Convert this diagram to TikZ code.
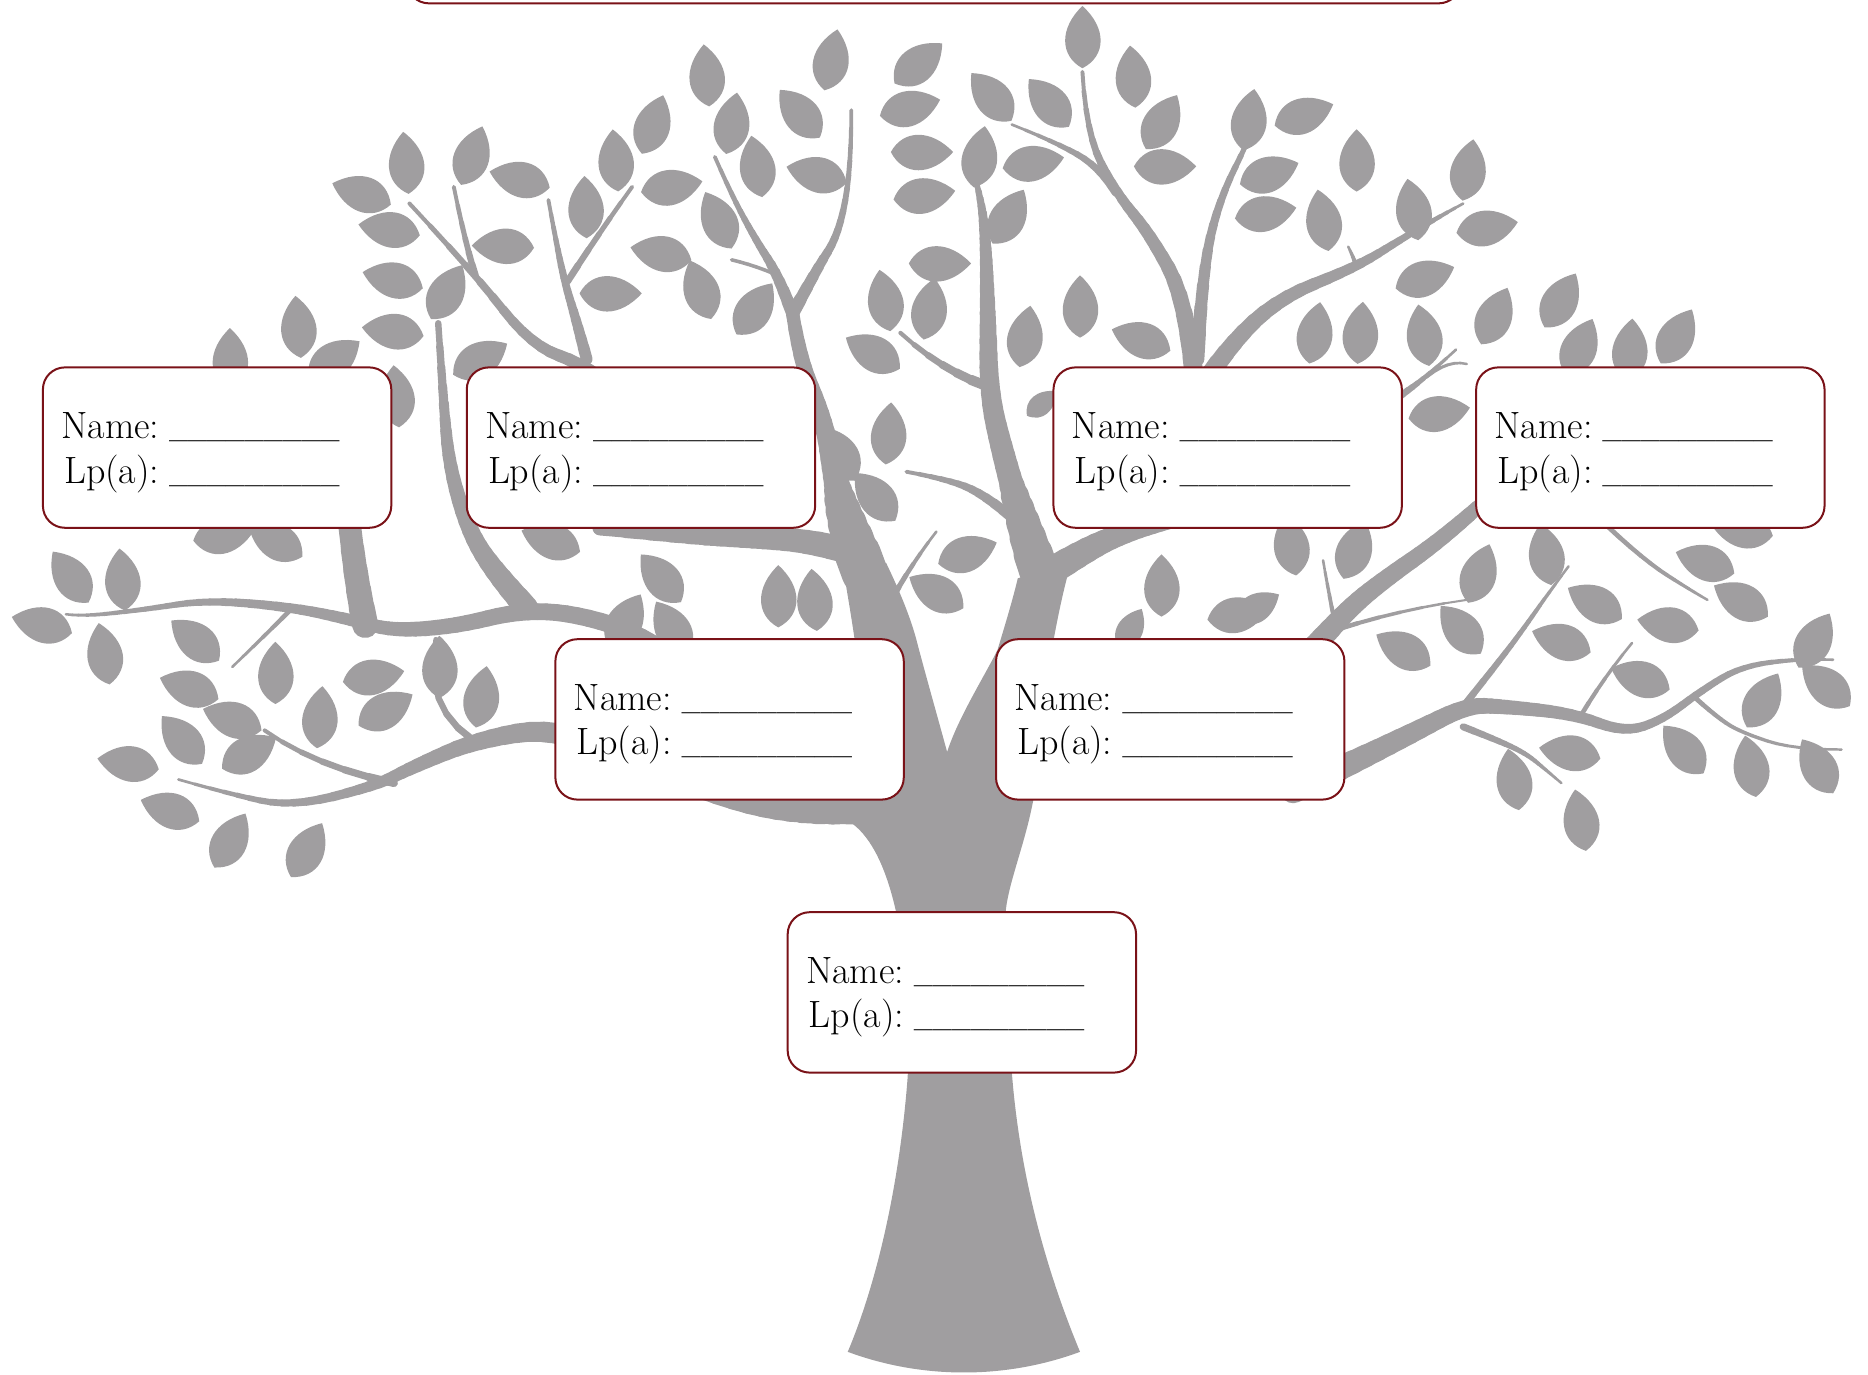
\documentclass[tikz,border=0pt]{standalone}
\usetikzlibrary{calc}
\definecolor{treegray}{RGB}{160,158,160}
\definecolor{boxred}{RGB}{122,18,24}

% tapered branch through points x/y/w (w in picture units)
\newcommand\tbr[1]{%
  \foreach \px/\py/\pw [count=\k] in {#1}{%
    \expandafter\xdef\csname tbx\k\endcsname{\px}%
    \expandafter\xdef\csname tby\k\endcsname{\py}%
    \expandafter\xdef\csname tbw\k\endcsname{\pw}%
    \xdef\tbn{\k}%
  }%
  \pgfmathtruncatemacro\tblast{\tbn-1}%
  \foreach \j in {2,...,\tblast}{%
    \pgfmathtruncatemacro\jm{\j-1}%
    \pgfmathtruncatemacro\jp{\j+1}%
    \edef\qcx{\csname tbx\j\endcsname}%
    \edef\qcy{\csname tby\j\endcsname}%
    \edef\qcw{\csname tbw\j\endcsname}%
    \edef\qpx{\csname tbx\jm\endcsname}%
    \edef\qpy{\csname tby\jm\endcsname}%
    \edef\qpw{\csname tbw\jm\endcsname}%
    \edef\qnx{\csname tbx\jp\endcsname}%
    \edef\qny{\csname tby\jp\endcsname}%
    \edef\qnw{\csname tbw\jp\endcsname}%
    \ifnum\j=2\relax
      \let\qsx\qpx \let\qsy\qpy \let\qsw\qpw
    \else
      \pgfmathsetmacro\qsx{(\qpx+\qcx)/2}%
      \pgfmathsetmacro\qsy{(\qpy+\qcy)/2}%
      \pgfmathsetmacro\qsw{(\qpw+\qcw)/2}%
    \fi
    \ifnum\j=\tblast\relax
      \let\qex\qnx \let\qey\qny \let\qew\qnw
    \else
      \pgfmathsetmacro\qex{(\qnx+\qcx)/2}%
      \pgfmathsetmacro\qey{(\qny+\qcy)/2}%
      \pgfmathsetmacro\qew{(\qnw+\qcw)/2}%
    \fi
    \foreach \i in {0,...,5}{%
      \pgfmathsetmacro\qta{\i/6}%
      \pgfmathsetmacro\qtb{(\i+1)/6}%
      \pgfmathsetmacro\qxa{(1-\qta)*(1-\qta)*\qsx+2*\qta*(1-\qta)*\qcx+\qta*\qta*\qex}%
      \pgfmathsetmacro\qya{(1-\qta)*(1-\qta)*\qsy+2*\qta*(1-\qta)*\qcy+\qta*\qta*\qey}%
      \pgfmathsetmacro\qxb{(1-\qtb)*(1-\qtb)*\qsx+2*\qtb*(1-\qtb)*\qcx+\qtb*\qtb*\qex}%
      \pgfmathsetmacro\qyb{(1-\qtb)*(1-\qtb)*\qsy+2*\qtb*(1-\qtb)*\qcy+\qtb*\qtb*\qey}%
      \pgfmathsetmacro\qww{(\qsw+(\qew-\qsw)*(\qta+\qtb)/2)*0.5987}%
      \draw[treegray, line width=\qww pt, line cap=round] (\qxa,\qya) -- (\qxb,\qyb);
    }%
  }%
}

% leaf: [length]{x}{y}{angle}
\newcommand\lf[4][52]{%
  \fill[treegray, shift={(#2,#3)}, rotate=#4, scale=#1]
    (-0.5,0) .. controls (-0.3,0.39) and (0.15,0.39) .. (0.5,0)
    .. controls (0.15,-0.37) and (-0.3,-0.37) .. (-0.5,0) -- cycle;}

\newcommand\uline{{\fontsize{10.9}{13}\selectfont\bfseries\_\_\_\_\_\_\_\_\_}}

\tikzset{
  fambox/.style={draw=boxred, fill=white, line width=1pt, rounded corners=11pt,
    minimum width=174.2pt, minimum height=80.2pt, inner sep=0pt, anchor=north west},
  cardtext/.style={anchor=base east, inner sep=0pt, font=\fontsize{19}{22}\selectfont}
}

\newcommand\famcard[3]{%
  \node[fambox] (#1) at (#2,#3) {};
  \node[cardtext] (#1n) at ({#2+249},{#3+60}) {\spaceskip=3pt Name: \uline};
  \node[cardtext] (#1l) at ({#2+249},{#3+97.5}) {\spaceskip=3pt Lp(a): \uline};
}

\begin{document}
\begin{tikzpicture}[x=0.5987pt, y=-0.5987pt]
\useasboundingbox (0,0) rectangle (1560.1,1148.3);
\clip (0,0) rectangle (1560.1,1148.3);

% ---------- trunk ----------
\fill[treegray] (708,1129)
 .. controls (735,1065) and (752,980) .. (758,900)
 .. controls (762,830) and (755,785) .. (748,760)
 .. controls (740,725) and (728,700) .. (712,688)
 -- (722,600)
 .. controls (718,560) and (712,520) .. (705,480)
 -- (740,470)
 .. controls (752,495) and (760,515) .. (765,533)
 .. controls (772,560) and (782,595) .. (791,628)
 .. controls (800,600) and (822,565) .. (833,543)
 .. controls (840,520) and (846,500) .. (850,483)
 -- (895,468)
 .. controls (880,520) and (868,600) .. (863,668)
 .. controls (856,705) and (843,735) .. (840,760)
 .. controls (838,800) and (842,860) .. (845,895)
 .. controls (850,960) and (865,1040) .. (902,1129)
 .. controls (840,1152) and (770,1152) .. (708,1129) -- cycle;

% ---------- branches ----------
% left limb
\tbr{722/478/40, 704/430/26, 696/390/18, 686/345/14, 668/300/13, 662/262/11}
\tbr{662/262/11, 650/230/8, 631/200/6, 612/165/4, 597/131/3}
\tbr{662/262/11, 682/225/8, 701/195/6, 711/139/4, 711/92/3}
\tbr{611/217/3, 632/222/3, 652/231/3}
% right limb
\tbr{868/478/34, 852/430/22, 838/380/18, 826/330/17, 825/260/13, 823/195/9, 818/160/5, 812/140/3}
% right branch from limb
\tbr{870/482/24, 905/460/20, 940/444/18, 975/434/16, 1012/424/15, 1060/408/14}
\tbr{1000/330/17, 1015/303/15, 1063/251/12, 1133/223/8, 1170/200/6, 1202/181/4, 1222/170/2}
\tbr{1133/223/4, 1130/214/3, 1126/206/2}
\tbr{998/320/16, 991/251/13, 960/195/10, 932/161/8, 907/111/5, 904/60/3}
\tbr{845/104/2, 880/118/4, 918/139/6, 932/161/7}
\tbr{1000/300/12, 1004/228/9, 1018/167/6, 1046/111/4, 1053/89/2}
\tbr{752/278/3, 786/309/6, 823/322/9}
\tbr{757/394/3, 790/400/5, 821/412/7, 845/432/9}
\tbr{745/500/5, 762/470/4, 782/444/2}
% left big branch under box 2
\tbr{715/462/22, 680/452/20, 629/449/18, 570/447/15, 501/441/12}
% lower left branch
\tbr{740/672/30, 690/677/24, 629/672/22, 540/640/20, 464/607/18, 398/618/14, 346/640/11, 312/657/9, 243/674/6, 191/663/4, 149/651/2}
% main left horizontal branch
\tbr{600/575/16, 543/532/15, 480/512/14, 433/510/14, 381/523/13, 329/527/12, 295/518/10, 243/507/8, 173/501/6, 121/509/4, 69/515/3, 55/513/2}
\tbr{290/420/18, 296/480/20, 305/522/22}
\tbr{366/270/5, 370/330/8, 375/390/11, 392/445/14, 415/480/17, 440/508/20}
\tbr{243/509/4, 220/532/3, 194/557/2}
\tbr{364/534/4, 353/590/5, 395/618/6}
\tbr{221/610/3, 263/640/5, 329/654/7}
% top-left twigs
\tbr{342/170/3, 396/228/6, 444/289/9, 490/305/11, 520/330/12}
\tbr{379/156/3, 389/205/4, 397/230/6}
\tbr{458/167/3, 465/205/5, 472/237/6, 482/270/8, 490/300/10}
\tbr{528/156/3, 500/195/4, 474/235/6}
% right side
\tbr{1080/660/22, 1123/640/20, 1180/612/16, 1225/589/14, 1255/590/12, 1314/596/10, 1357/612/8, 1389/601/7, 1422/576/6, 1455/556/5, 1505/550/3, 1531/551/2}
\tbr{1222/590/6, 1250/555/5, 1274/523/4, 1292/497/3, 1310/473/2}
\tbr{1320/598/4, 1340/565/3, 1363/537/2}
\tbr{1416/583/4, 1435/600/3.5, 1455/612/3, 1498/626/2.5, 1538/626/2}
\tbr{1222/607/6, 1250/618/5, 1274/629/4, 1290/642/3, 1304/654/2}
\tbr{1070/570/20, 1103/534/18, 1130/505/16, 1159/482/15, 1199/454/13, 1241/418/12, 1260/400/10}
\tbr{1116/526/4, 1110/497/3, 1105/468/2}
\tbr{1116/526/4, 1169/509/3, 1225/501/1.5}
\tbr{1343/440/4, 1373/468/3.5, 1412/493/3, 1426/501/2}
\tbr{1150/345/7, 1169/331/6, 1191/315/4, 1216/292/2}
\tbr{1191/315/3, 1210/300/2.5, 1225/304/2}

% ---------- leaves ----------
% top left / centre
\lf{694}{50}{78} \lf{767}{53}{40} \lf{590}{63}{95} \lf{760}{90}{15}
\lf{668}{95}{130} \lf{611}{103}{80} \lf{545}{104}{70} \lf{770}{127}{0}
\lf{632}{139}{100} \lf{682}{146}{165} \lf{514}{134}{95} \lf{434}{150}{165}
\lf{394}{130}{70} \lf{339}{136}{95} \lf{302}{162}{160} \lf{561}{156}{10}
\lf{489}{173}{92} \lf{325}{192}{170} \lf{420}{206}{178} \lf{552}{212}{168}
\lf{600}{184}{115} \lf{772}{163}{8} \lf{785}{220}{0} \lf{585}{242}{110}
\lf{630}{258}{55} \lf{510}{245}{0} \lf{373}{244}{60} \lf{328}{234}{165}
\lf{328}{277}{172} \lf{776}{258}{80} \lf{739}{251}{100} \lf{729}{295}{150}
\lf{249}{273}{95} \lf{279}{300}{35} \lf{742}{362}{85} \lf{331}{331}{95}
\lf{192}{300}{90} \lf{401}{300}{30}
% top right
\lf{904}{31}{90} \lf{946}{64}{95} \lf{828}{81}{130} \lf{876}{86}{130}
\lf{970}{102}{60} \lf{1043}{100}{80} \lf{1089}{96}{20} \lf{818}{131}{80}
\lf{863}{136}{10} \lf{973}{139}{0} \lf{1133}{134}{90} \lf{1060}{145}{20}
\lf{1226}{142}{80} \lf{842}{181}{60} \lf{1180}{175}{100} \lf{1242}{190}{10}
\lf{1057}{178}{10} \lf{1105}{184}{100} \lf{1190}{232}{20} \lf{902}{256}{90}
\lf{856}{281}{80} \lf{953}{284}{160} \lf{1098}{278}{80} \lf{1136}{278}{85}
\lf{1189}{280}{100} \lf{1248}{264}{65} \lf{1303}{251}{60} \lf{1202}{345}{10}
\lf[32]{870}{337}{40} \lf{1319}{290}{65} \lf{1361}{292}{85} \lf{1400}{281}{60}
% middle band
\lf{701}{379}{120} \lf{731}{415}{130} \lf{808}{462}{20} \lf{782}{495}{150}
\lf{552}{483}{130} \lf{650}{498}{90} \lf{680}{501}{95} \lf{970}{489}{90}
\lf{1034}{513}{10} \lf{1078}{455}{100} \lf{1131}{459}{70} \lf[38]{944}{525}{60}
\lf{522}{519}{60} \lf{561}{525}{120} \lf{460}{452}{160} \lf{230}{452}{150}
\lf{187}{447}{10}
% left
\lf{59}{482}{125} \lf{102}{484}{95} \lf{35}{522}{165} \lf{87}{546}{100}
\lf{163}{535}{140} \lf{158}{575}{160} \lf{230}{562}{90} \lf{312}{565}{10}
\lf{367}{557}{90} \lf{402}{582}{80} \lf{322}{593}{30} \lf{194}{601}{160}
\lf{267}{599}{85} \lf{152}{618}{130} \lf{107}{638}{170} \lf{208}{629}{30}
\lf{142}{677}{160} \lf{192}{702}{60} \lf{256}{710}{60}
% right
\lf[42]{1050}{507}{30} \lf{1235}{479}{70} \lf{1291}{463}{100} \lf{1172}{543}{150}
\lf{1220}{526}{130} \lf{1332}{504}{150} \lf{1424}{470}{160} \lf{1454}{502}{150}
\lf{1393}{522}{170} \lf{1304}{536}{160} \lf{1370}{567}{160} \lf{1455}{443}{170}
\lf{1515}{535}{60} \lf{1472}{585}{60} \lf{1525}{573}{140} \lf{1311}{629}{170}
\lf{1406}{626}{130} \lf{1462}{640}{100} \lf{1518}{640}{120} \lf{1264}{651}{100}
\lf{1320}{685}{100}

% ---------- boxes ----------
\node[fambox, minimum width=526.9pt, minimum height=37.1pt] (top) at (339,-60) {};
\famcard{c1}{35}{306}
\famcard{c2}{389}{306}
\famcard{c3}{879}{306}
\famcard{c4}{1232}{306}
\famcard{c5}{463}{533}
\famcard{c6}{831}{533}
\famcard{c7}{657}{761}
\end{tikzpicture}
\end{document}
